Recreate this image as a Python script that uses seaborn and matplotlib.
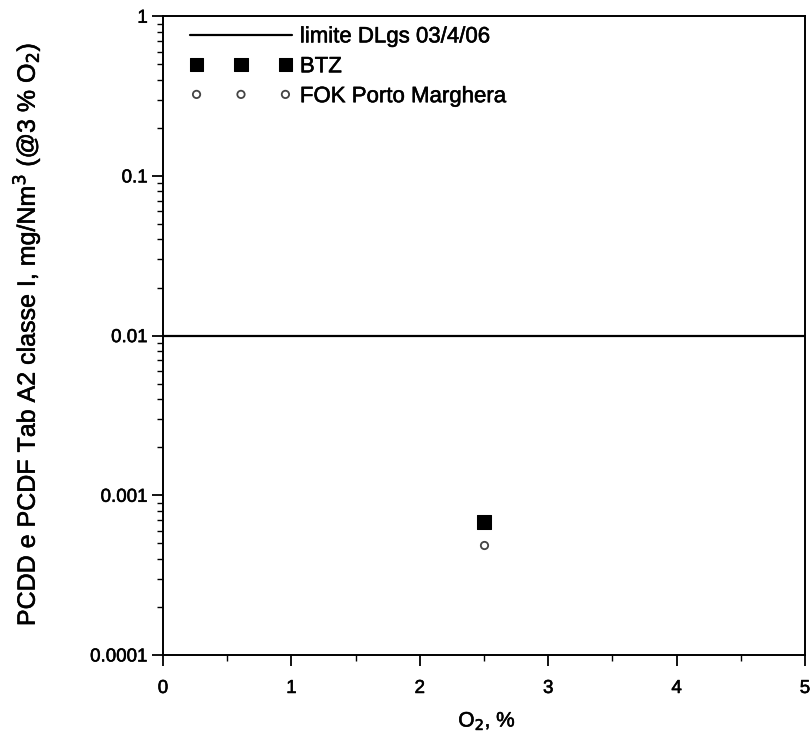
import matplotlib
matplotlib.use("Agg")
import matplotlib.pyplot as plt
import matplotlib.patheffects as pe
import seaborn as sns
import pandas as pd
from matplotlib.ticker import LogLocator, FixedLocator, MultipleLocator, NullFormatter

# Emission data: PCDD/PCDF vs oxygen content
limit_o2 = [0, 5]
limit_value = [0.01, 0.01]
btz_o2 = [2.5]
btz_value = [0.00068]
fok_o2 = [2.5]
fok_value = [0.00049]

y_ticks = [0.0001, 0.001, 0.01, 0.1, 1]
y_ticklabels = ["0.0001", "0.001", "0.01", "0.1", "1"]
x_ticks = [0, 1, 2, 3, 4, 5]

sns.set_theme(style="ticks")
plt.rcParams["font.family"] = ["Liberation Sans", "DejaVu Sans"]
plt.rcParams.update({
    "text.color": "black",
    "axes.labelcolor": "black",
    "xtick.color": "black",
    "ytick.color": "black",
    "axes.edgecolor": "black",
})

fig = plt.figure(figsize=(8.11, 7.38), dpi=100)
ax = fig.add_axes([0.201, 0.1125, 0.7916, 0.8655])

limit_df = pd.DataFrame({"o2": limit_o2, "val": limit_value})
btz_df = pd.DataFrame({"o2": btz_o2, "val": btz_value})
fok_df = pd.DataFrame({"o2": fok_o2, "val": fok_value})

sns.lineplot(data=limit_df, x="o2", y="val", ax=ax, color="black", lw=1.6,
             label="limite DLgs 03/4/06")
sns.scatterplot(data=btz_df, x="o2", y="val", ax=ax, marker="s", s=90,
                color="black", edgecolor="black", label="BTZ")
sns.scatterplot(data=fok_df, x="o2", y="val", ax=ax, marker="o", s=28,
                facecolor="white", edgecolor="#444444", linewidth=1.3,
                label="FOK Porto Marghera")

ax.set_yscale("log")
ax.set_xlim(0, 5)
ax.set_ylim(0.0001, 1)
ax.yaxis.set_major_locator(FixedLocator(y_ticks))
ax.set_yticklabels(y_ticklabels)
ax.yaxis.set_minor_locator(LogLocator(base=10, subs=range(2, 10), numticks=20))
ax.yaxis.set_minor_formatter(NullFormatter())
ax.set_xticks(x_ticks)
ax.xaxis.set_minor_locator(MultipleLocator(0.5))

for side in ["top", "right", "left", "bottom"]:
    ax.spines[side].set_visible(True)
    ax.spines[side].set_color("black")
    ax.spines[side].set_linewidth(1.4)

ax.tick_params(axis="both", which="major", direction="out", length=8, width=1.3,
               labelsize=13.5, colors="black")
ax.tick_params(axis="y", which="major", pad=3)
ax.tick_params(axis="x", which="major", pad=10)
ax.tick_params(axis="both", which="minor", direction="out", length=4, width=1.0)

ax.set_xlabel("O$_2$, %", fontsize=15)
ax.xaxis.set_label_coords(0.505, -0.087)
ax.set_ylabel("PCDD e PCDF Tab A2 classe I, mg/Nm$^3$ (@3 % O$_2$)", fontsize=18)
ax.yaxis.set_label_coords(-0.188, 0.502)

leg = ax.legend(loc="upper left", frameon=False, fontsize=16, scatterpoints=3,
                scatteryoffsets=[0.5], handlelength=4.6, borderaxespad=0.0,
                borderpad=0.4, handletextpad=0.35, labelspacing=0.4,
                bbox_to_anchor=(0.028, 0.998))

# slightly heavier strokes on all text
heavy = [pe.withStroke(linewidth=0.4, foreground="black")]
texts = (ax.get_xticklabels() + ax.get_yticklabels() + leg.get_texts()
         + [ax.xaxis.label, ax.yaxis.label])
for t in texts:
    t.set_path_effects(heavy)

fig.savefig("out.png", dpi=100)
